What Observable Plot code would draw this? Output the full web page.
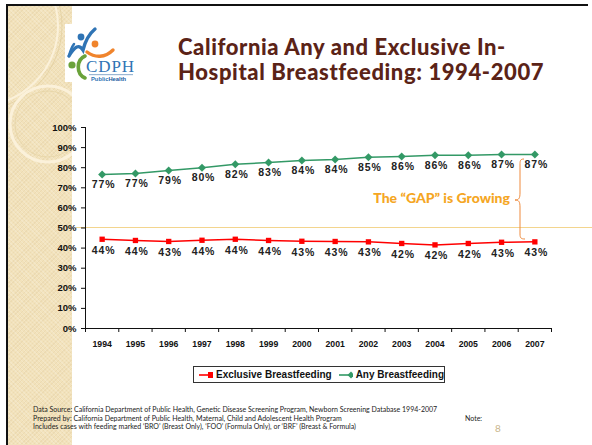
<!DOCTYPE html>
<html>
<head>
<meta charset="utf-8">
<script src="https://cdn.jsdelivr.net/npm/d3@7"></script>
<script src="https://cdn.jsdelivr.net/npm/@observablehq/plot@0.6"></script>
<style>
  html, body { margin: 0; padding: 0; background: #fff; }
  #slide { position: relative; width: 592px; height: 445px; overflow: hidden; background: #fff; }
  .abs { position: absolute; }
  #strip { left: 8px; top: 6px; width: 64px; height: 439px; background-color: #f2e2bb;
    background-image: repeating-linear-gradient(45deg, rgba(255,255,255,0.18) 0 1px, transparent 1px 3px),
                      repeating-linear-gradient(-45deg, rgba(160,120,60,0.08) 0 1px, transparent 1px 3px); }
  #borderTop { left: 6px; top: 4px; width: 582px; height: 2px; background: #111; }
  #borderLeft { left: 6px; top: 4px; width: 2px; height: 441px; background: #111; }
  #gapline { left: 76px; top: 227px; width: 516px; height: 1px; background: #f3d58e; }
  #title { left: 178px; top: 34px; font-family: Lato, "Open Sans", sans-serif; font-weight: 900;
    font-size: 22px; letter-spacing: 0.6px; line-height: 25px; color: #5b2317; white-space: nowrap; }
  #legend { left: 193px; top: 366px; width: 252px; height: 17px; border: 1px solid #333; box-sizing: border-box;
    font-family: "Liberation Sans", Arial, sans-serif; font-weight: bold; font-size: 10px; color: #111;
    display: flex; align-items: center; padding-left: 4px; white-space: nowrap; }
  #legend svg { margin-right: 3px; }
  #footer { left: 33px; top: 405px; font-family: Lato, sans-serif; font-size: 7px; line-height: 8.5px; color: #222; white-space: nowrap; }
  #note { left: 465px; top: 414px; font-family: Lato, sans-serif; font-size: 7px; color: #222; }
  #pagenum { left: 495px; top: 422px; font-family: Lato, sans-serif; font-size: 10px; color: #c9b68c; }
  #gaptext { right: 82px; top: 189px; font-family: Lato, sans-serif; font-weight: 900; font-size: 14px; color: #f5a623; white-space: nowrap; }
  #chart g[aria-label="text"] text { letter-spacing: 0.9px; }
</style>
</head>
<body>
<div id="slide">
  <div id="strip" class="abs"></div>
  <svg class="abs" style="left:8px;top:6px" width="64" height="439">
    <circle cx="-30" cy="20" r="80" fill="none" stroke="#fbf1da" stroke-width="2"/>
    <circle cx="-30" cy="20" r="84" fill="none" stroke="#e2cf9f" stroke-width="0.8"/>
    <circle cx="40" cy="118" r="38" fill="none" stroke="#fbf1da" stroke-width="3"/>
    <circle cx="40" cy="118" r="33" fill="none" stroke="#e6d4a6" stroke-width="0.8"/>
  </svg>
  <div id="borderTop" class="abs"></div>
  <div id="borderLeft" class="abs"></div>
  <div id="gapline" class="abs"></div>

  <svg class="abs" style="left:65px;top:24px" width="70" height="58">
    <rect width="70" height="58" fill="#fff"/>
    <circle cx="16" cy="13" r="3.4" fill="#2f74b5"/>
    <path d="M4,32 C10,22 14,20 18,26 C20,18 24,10 30,5" fill="none" stroke="#2f74b5" stroke-width="3.4" stroke-linecap="round"/>
    <path d="M9,20 C6,24 5,28 4,32" fill="none" stroke="#2f74b5" stroke-width="2.5" stroke-linecap="round"/>
    <circle cx="30" cy="20" r="3.4" fill="#f0842c"/>
    <path d="M22,28 C30,34 40,34 48,26" fill="none" stroke="#f0842c" stroke-width="3.4" stroke-linecap="round"/>
    <circle cx="7" cy="41" r="3.6" fill="#6aa23a"/>
    <path d="M20,32 C11,36 11,50 20,54" fill="none" stroke="#6aa23a" stroke-width="3.6" stroke-linecap="round"/>
    <text x="21" y="48" font-family="'Liberation Serif', serif" font-size="17" textLength="48" fill="#2f74b5">CDPH</text>
    <rect x="24" y="50" width="44" height="1.2" fill="#9bb7d4"/>
    <text x="26" y="57" font-family="'Liberation Sans', sans-serif" font-size="5.8" font-weight="bold" fill="#2f74b5">Public<tspan fill="#1a5aa0">Health</tspan></text>
  </svg>

  <div id="title" class="abs">California Any and Exclusive In-<br>Hospital Breastfeeding: 1994-2007</div>

  <div id="chart" class="abs" style="left:0;top:0"></div>

  <div id="gaptext" class="abs">The “GAP” is Growing</div>
  <svg class="abs" style="left:510px;top:155px" width="20" height="90">
    <path d="M14,4 C10,4 10,6 10,10 L10,38 C10,43 9,45 5,45 C9,45 10,47 10,52 L10,79 C10,83 11,84 15,84" fill="none" stroke="#ef8a3c" stroke-width="1"/>
  </svg>

  <div id="legend" class="abs">
    <svg width="26" height="10"><line x1="1" y1="5" x2="25" y2="5" stroke="#ff0000" stroke-width="1.6"/><rect x="10" y="2" width="6" height="6" fill="#ff0000"/></svg>
    <span style="margin-right:6px">Exclusive Breastfeeding</span>
    <svg width="26" height="10"><line x1="1" y1="5" x2="25" y2="5" stroke="#339966" stroke-width="1.6"/><path d="M13,1.5 L16.5,5 L13,8.5 L9.5,5 Z" fill="#339966"/></svg>
    <span>Any Breastfeeding</span>
  </div>

  <div id="footer" class="abs">Data Source: California Department of Public Health, Genetic Disease Screening Program, Newborn Screening Database 1994-2007<br>Prepared by: California Department of Public Health, Maternal, Child and Adolescent Health Program<br>Includes cases with feeding marked ‘BRO’ (Breast Only), ‘FOO’ (Formula Only), or ‘BRF’ (Breast &amp; Formula)</div>
  <div id="note" class="abs">Note:</div>
  <div id="pagenum" class="abs">8</div>
</div>
<script>
const years = [1994, 1995, 1996, 1997, 1998, 1999, 2000, 2001, 2002, 2003, 2004, 2005, 2006, 2007];
const anyBF = [76.6, 77.1, 78.6, 80.0, 81.7, 82.6, 83.6, 84.1, 85.2, 85.6, 86.2, 86.2, 86.6, 86.6];
const exclusiveBF = [44.4, 43.8, 43.3, 43.9, 44.4, 43.8, 43.4, 43.3, 43.1, 42.3, 41.6, 42.3, 42.9, 43.1];
const yTicks = [0, 10, 20, 30, 40, 50, 60, 70, 80, 90, 100];
const bandEdges = [1993.5, 1994.5, 1995.5, 1996.5, 1997.5, 1998.5, 1999.5, 2000.5, 2001.5, 2002.5, 2003.5, 2004.5, 2005.5, 2006.5, 2007.5];

const anyData = years.map((year, i) => ({year, value: anyBF[i]}));
const exclData = years.map((year, i) => ({year, value: exclusiveBF[i]}));
const fmt = d => Math.round(d.value) + "%";
const labelFont = {fontFamily: "'Liberation Sans', Arial, sans-serif", fontWeight: "bold", fontSize: 10.5, fill: "#222"};

const plot = Plot.plot({
  width: 592,
  height: 445,
  marginLeft: 85,
  marginRight: 41,
  marginTop: 127,
  marginBottom: 117,
  style: {background: "transparent", fontFamily: "'Liberation Sans', Arial, sans-serif", overflow: "visible"},
  x: {domain: [1993.5, 2007.5]},
  y: {domain: [0, 100]},
  marks: [
    Plot.axisY({ticks: yTicks, tickSize: 4, tickPadding: 5, tickFormat: d => d + "%", fontWeight: "bold", fontSize: 9.5, fill: "#111", stroke: "#111", label: null}),
    Plot.axisX({ticks: bandEdges, tickSize: 4, tickFormat: () => "", stroke: "#111", label: null}),
    Plot.axisX({ticks: years, tickSize: 0, tickPadding: 12, tickFormat: d => String(d), fontWeight: "bold", fontSize: 8.7, fill: "#111", label: null}),
    Plot.ruleX([1993.5], {stroke: "#111"}),
    Plot.ruleY([0], {stroke: "#111"}),
    Plot.line(anyData, {x: "year", y: "value", stroke: "#339966", strokeWidth: 1.5}),
    Plot.dot(anyData, {x: "year", y: "value", symbol: "diamond2", r: 3.6, fill: "#339966", stroke: "none"}),
    Plot.line(exclData, {x: "year", y: "value", stroke: "#ff0000", strokeWidth: 1.5}),
    Plot.dot(exclData, {x: "year", y: "value", symbol: "square", r: 3, fill: "#ff0000", stroke: "none"}),
    Plot.text(anyData, {x: "year", y: "value", text: fmt, dy: 10, dx: 1.5, ...labelFont}),
    Plot.text(exclData, {x: "year", y: "value", text: fmt, dy: 11, dx: 1.5, ...labelFont})
  ]
});
document.getElementById("chart").appendChild(plot);
</script>
</body>
</html>
